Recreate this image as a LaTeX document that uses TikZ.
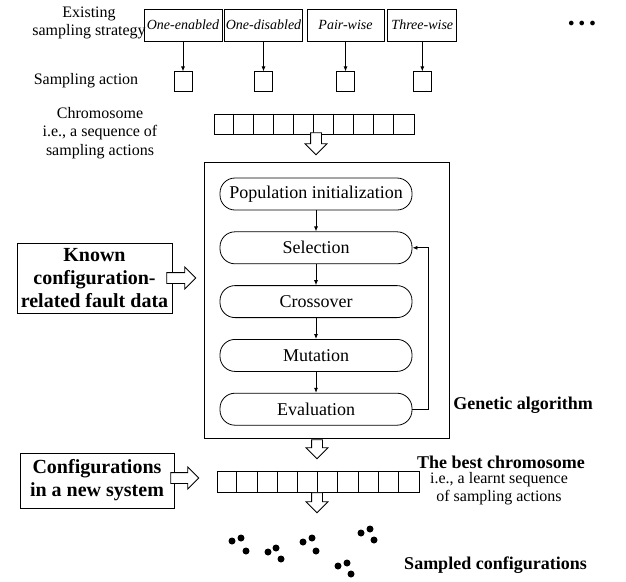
\documentclass[tikz,border=0pt]{standalone}
\usepackage{fontspec}
\setmainfont{Liberation Serif}
\usetikzlibrary{arrows.meta,positioning,shapes.arrows}

\begin{document}
\begin{tikzpicture}[
    x=1pt, y=-1pt, line width=0.8pt,
    lbl/.style={align=center, inner sep=0pt, font=\fontsize{16}{18.5}\selectfont},
    strat/.style={draw, minimum height=32pt, inner sep=1pt, font=\fontsize{14}{16}\selectfont\itshape},
    action/.style={draw, minimum width=18pt, minimum height=20pt, inner sep=0pt},
    genes/.style={draw, minimum height=20pt, inner sep=0pt},
    stepbox/.style={draw, rounded corners=15pt, minimum width=192pt, minimum height=32pt, font=\fontsize{18}{20}\selectfont},
    input/.style={draw, align=center, inner sep=0pt, font=\fontsize{20}{23}\selectfont\bfseries},
    title/.style={inner sep=0pt, font=\fontsize{18}{21}\selectfont\bfseries},
    hollow/.style={single arrow, draw, fill=white, inner sep=5pt, minimum width=21pt, single arrow head extend=5.5pt, single arrow tip angle=90},
    arrow/.style={-{Latex[length=5pt, width=4pt]}}
]
\useasboundingbox (0,0) rectangle (626,581);

% sampling strategies and actions
\node[lbl] (strategy) at (89,23) {Existing\\sampling strategy};
\node[strat, minimum width=78pt] (oneen) at (183,25) {One-enabled};
\node[strat, minimum width=75pt, right=2pt of oneen] (onedis) {One-disabled};
\node[strat, minimum width=77pt, right=4pt of onedis] (pair) {Pair-wise};
\node[strat, minimum width=69pt, right=3pt of pair] (three) {Three-wise};
\node[inner sep=0pt, font=\fontsize{12}{12}\selectfont] (more) at (582,24) {$\bullet\,\bullet\,\bullet$};

\node[lbl] (actlbl) at (86,81) {Sampling action};
\node[action, below=30pt of oneen] (act1) {};
\node[action, below=30pt of onedis] (act2) {};
\node[action, below=30pt of pair] (act3) {};
\node[action, below=30pt of three] (act4) {};

\draw[arrow] (oneen) -- (act1);
\draw[arrow] (onedis) -- (act2);
\draw[arrow] (pair) -- (act3);
\draw[arrow] (three) -- (act4);

% chromosome
\node[lbl] (chromlbl) at (100,133) {Chromosome\\i.e., a sequence of\\sampling actions};
\node[genes, minimum width=200pt] (chrom) at (314,124) {};
\foreach \i in {1,...,9}
    \draw ([xshift=\i*20pt]chrom.north west) -- ([xshift=\i*20pt]chrom.south west);
\node[hollow, minimum height=22pt, rotate=-90] (down1) at (316,141) {};

% genetic algorithm
\node[draw, minimum width=245pt, minimum height=276pt] (ga) at (326.5,300) {};
\node[stepbox] (init) at (316,194) {Population initialization};
\node[stepbox, below=21pt of init] (select) {Selection};
\node[stepbox, below=21pt of select] (cross) {Crossover};
\node[stepbox, below=21pt of cross] (mutate) {Mutation};
\node[stepbox, below=21pt of mutate] (eval) {Evaluation};

\draw[arrow] (init) -- (select);
\draw[arrow] (select) -- (cross);
\draw[arrow] (cross) -- (mutate);
\draw[arrow] (mutate) -- (eval);
\draw[arrow] (eval.east) -- ++(16,0) |- (select.east);

\node[title, anchor=west] (galbl) at (453,405) {Genetic algorithm};

\node[input, minimum width=155pt, minimum height=70pt] (known) at (94.5,278) {Known\\configuration-\\related fault data};
\node[hollow, minimum height=29pt] (in1) at (178.5,278) {};

% best chromosome
\node[hollow, minimum height=19pt, rotate=-90] (down2) at (317,446.5) {};
\node[genes, minimum width=202pt, minimum height=21pt] (best) at (318,481.5) {};
\foreach \i in {1,...,9}
    \draw ([xshift=\i*20.2pt]best.north west) -- ([xshift=\i*20.2pt]best.south west);
\node[title] (bestlbl) at (501,462) {The best chromosome};
\node[lbl, font=\fontsize{16}{18}\selectfont] (bestnote) at (499,489) {i.e., a learnt sequence\\of sampling actions};

\node[input, minimum width=154pt, minimum height=55pt] (newsys) at (97,480.5) {Configurations\\in a new system};
\node[hollow, minimum height=28pt] (in2) at (182,478) {};
\node[hollow, minimum height=20pt, rotate=-90] (down3) at (317,500) {};

% sampled configurations
\foreach \p in {(232,541),(241,538),(246,551),(268,552),(276,548),(281,559),(303,542),(312,538),(316,551),
                (338,566),(347,563),(351,574),(361,533),(370,529),(374,540)}
    \fill \p circle (3.5pt);
\node[title] (sampled) at (495.5,565) {Sampled configurations};
\end{tikzpicture}
\end{document}
